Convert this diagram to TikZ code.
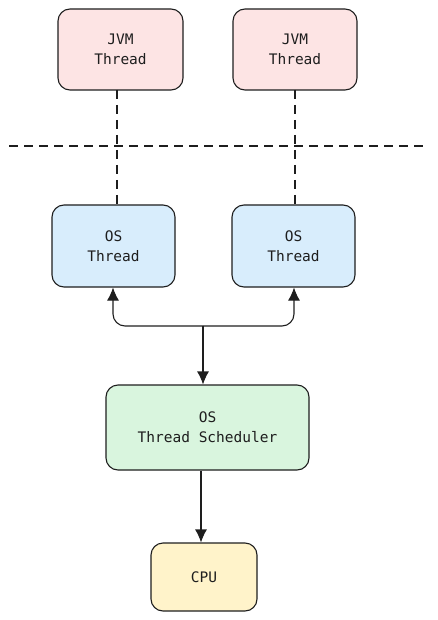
\documentclass[tikz,border=0pt]{standalone}
\usepackage{fontspec}
\setmonofont{DejaVu Sans Mono}
\usetikzlibrary{arrows.meta}
\definecolor{ink}{HTML}{1E1E1E}
\definecolor{jvmfill}{HTML}{FDE4E4}
\definecolor{osfill}{HTML}{D8EDFC}
\definecolor{schedfill}{HTML}{D9F5DE}
\definecolor{cpufill}{HTML}{FFF3CA}
\begin{document}
\begin{tikzpicture}[x=1pt,y=-1pt,
    box/.style={draw=ink, line width=1.1pt, rounded corners=12pt, align=center,
      font=\ttfamily\fontsize{14.5}{20}\selectfont, text=ink, inner sep=0pt},
    link/.style={draw=ink, line width=1.1pt, dash pattern=on 9pt off 6pt},
    flow/.style={draw=ink, line width=1.1pt, -{Latex[length=13pt,width=12pt]}}]
    \useasboundingbox (0,0) rectangle (438,620);

    % JVM threads
    \node (jvma) [box, fill=jvmfill, minimum width=125pt, minimum height=81pt] at (120.5,49.5) {JVM\\Thread};
    \node (jvmb) [box, fill=jvmfill, minimum width=124pt, minimum height=81pt] at (295,49.5) {JVM\\Thread};

    % Boundary line
    \coordinate (bl) at (9,146);
    \coordinate (br) at (428,146);
    \draw [link] (bl) -- (br);

    % OS threads
    \node (osa) [box, fill=osfill, minimum width=123pt, minimum height=82pt] at (113.5,246) {OS\\Thread};
    \node (osb) [box, fill=osfill, minimum width=123pt, minimum height=82pt] at (293.5,246) {OS\\Thread};

    \draw [link] (117,90) -- (117,205);
    \draw [link] (295,90) -- (295,205);

    % Scheduler and CPU
    \node (sched) [box, fill=schedfill, minimum width=203pt, minimum height=85pt] at (207.5,427.5) {OS\\Thread Scheduler};
    \node (cpu) [box, fill=cpufill, minimum width=106pt, minimum height=68pt] at (204,577) {CPU};

    \coordinate (fork) at (203,326);
    \draw [flow, rounded corners=12pt] (fork) -| (osa.south -| 113,0);
    \draw [flow, rounded corners=12pt] (fork) -| (osb.south -| 294,0);
    \draw [flow] (fork) -- (sched.north -| fork);
    \draw [flow] (sched.south -| 201,0) -- (cpu.north -| 201,0);
  \end{tikzpicture}
\end{document}
